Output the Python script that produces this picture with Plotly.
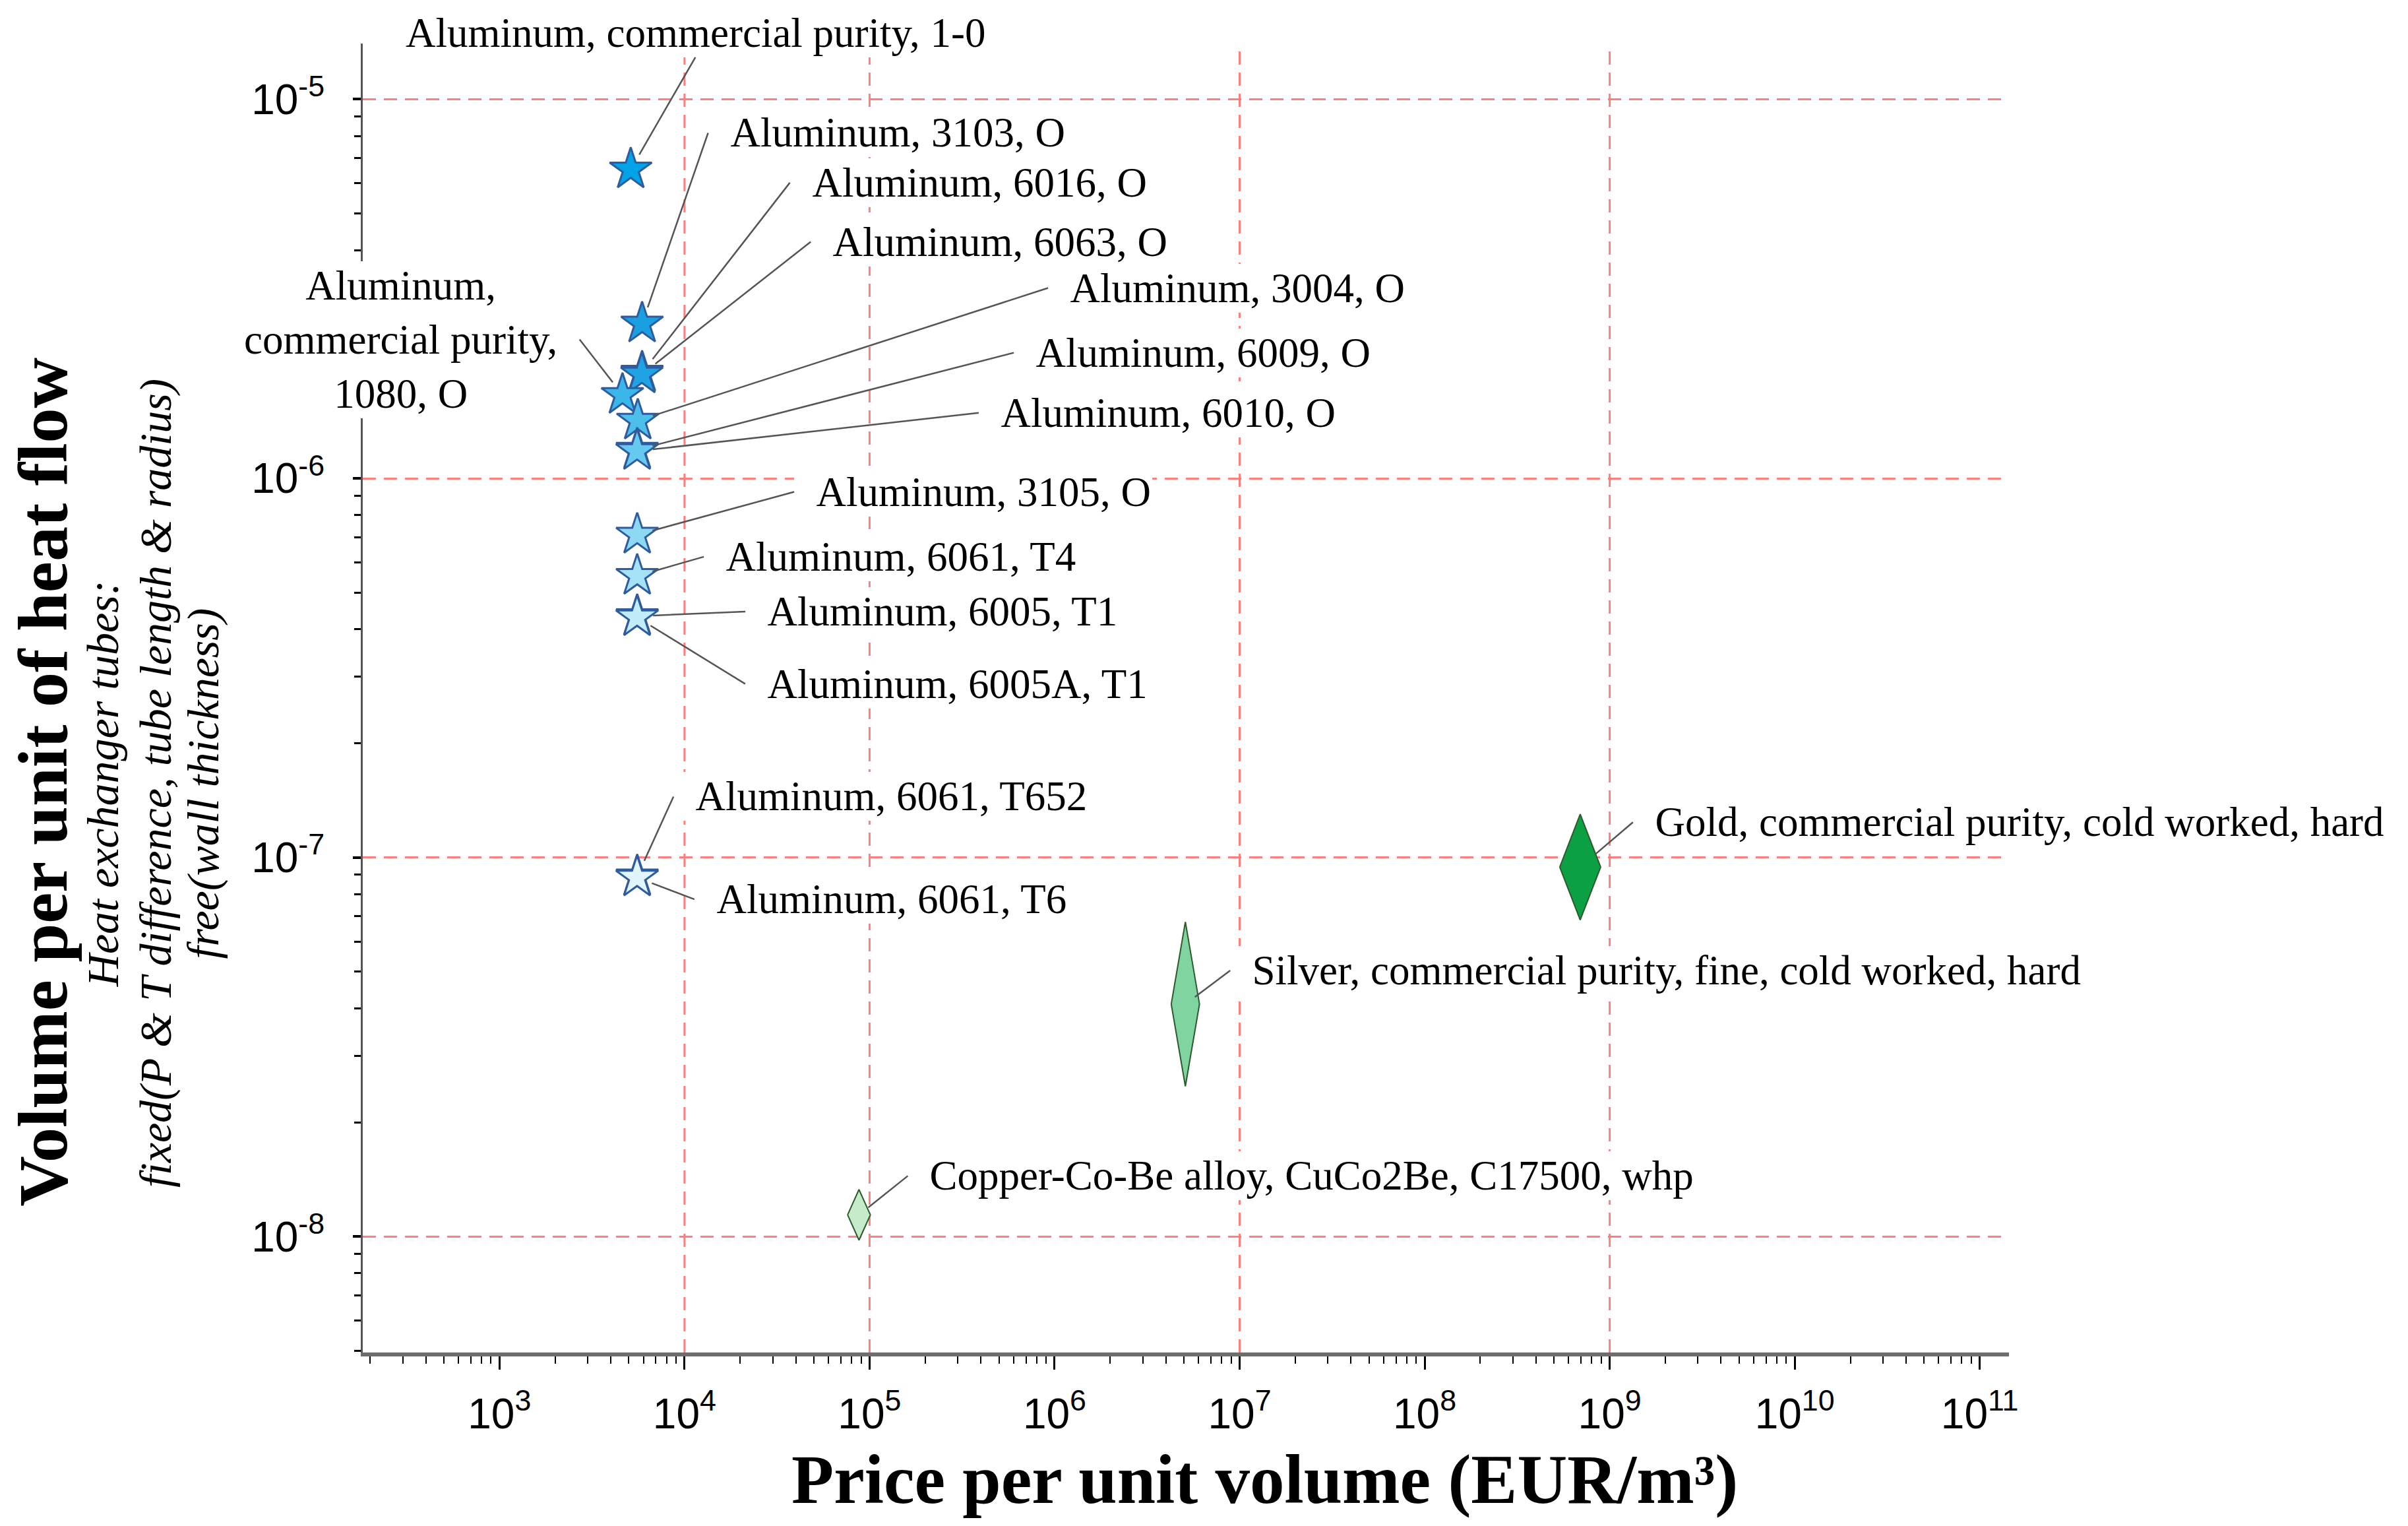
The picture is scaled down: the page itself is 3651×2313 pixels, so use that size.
import math
import plotly.graph_objects as go

# Point materials (stars): price per unit volume (EUR/m^3) and volume per unit of heat flow
star_names = [
    "Aluminum, commercial purity, 1-0",
    "Aluminum, 3103, O",
    "Aluminum, 6016, O",
    "Aluminum, 6063, O",
    "Aluminum,<br>commercial purity,<br>1080, O",
    "Aluminum, 3004, O",
    "Aluminum, 6009, O",
    "Aluminum, 6010, O",
    "Aluminum, 3105, O",
    "Aluminum, 6061, T4",
    "Aluminum, 6005, T1",
    "Aluminum, 6005A, T1",
    "Aluminum, 6061, T652",
    "Aluminum, 6061, T6",
]
star_price = [5120, 5900, 5900, 5880, 4620, 5590, 5550, 5540, 5550, 5550, 5550, 5540, 5550, 5540]
star_volume = [6.53e-6, 2.56e-6, 1.90e-6, 1.88e-6, 1.66e-6, 1.42e-6, 1.19e-6, 1.18e-6,
               7.10e-7, 5.53e-7, 4.33e-7, 4.30e-7, 8.91e-8, 8.85e-8]

# Range materials (diamonds): min / max of price and volume
range_names = [
    "Gold, commercial purity, cold worked, hard",
    "Silver, commercial purity, fine, cold worked, hard",
    "Copper-Co-Be alloy, CuCo2Be, C17500, whp",
]
price_low = [5.37e8, 4.27e6, 7.61e4]
price_high = [8.94e8, 6.07e6, 1.01e5]
volume_low = [6.84e-8, 2.49e-8, 9.78e-9]
volume_high = [1.30e-7, 6.76e-8, 1.33e-8]

# Axes
x_tickvals = [1e3, 1e4, 1e5, 1e6, 1e7, 1e8, 1e9, 1e10, 1e11]
x_ticktext = ["10<sup>3</sup>", "10<sup>4</sup>", "10<sup>5</sup>", "10<sup>6</sup>", "10<sup>7</sup>",
              "10<sup>8</sup>", "10<sup>9</sup>", "10<sup>10</sup>", "10<sup>11</sup>"]
y_tickvals = [1e-8, 1e-7, 1e-6, 1e-5]
y_ticktext = ["10<sup>-8</sup>", "10<sup>-7</sup>", "10<sup>-6</sup>", "10<sup>-5</sup>"]
x_gridvals = [1e4, 1e5, 1e7, 1e9]

subtitle_lines = [
    "Heat exchanger tubes:",
    "fixed(P &amp; T difference, tube length &amp; radius)",
    "free(wall thickness)",
]

# Styling
star_colors = ["#00A3E6", "#1A9FE0", "#20A3E2", "#20A3E2", "#3BB6EA", "#4DBFEC", "#66C9F0",
               "#66C9F0", "#8DD9F4", "#A6E2F7", "#C3ECFA", "#C3ECFA", "#E2F4FC", "#E2F4FC"]
range_colors = ["#0AA043", "#7FD4A0", "#C6EBCB"]
SERIF = "Liberation Serif"
GRID = dict(color="#FF7F7F", width=3, dash="20px,12px")
GAP = "\u00a0\u00a0"

# label layout: (ax, ay, xanchor, yanchor, standoff)
star_label_pos = [
    (98, -170, "center", "bottom", 26),
    (100, -289, "left", "middle", 26),
    (224, -288, "left", "middle", 26),
    (256, -201, "left", "middle", 26),
    (-65, -84, "right", "middle", 24),
    (622, -201, "left", "middle", 24),
    (571, -147, "left", "middle", 24),
    (518, -58, "left", "middle", 24),
    (238, -65, "left", "middle", 24),
    (101, -29, "left", "middle", 24),
    (164, -7, "left", "middle", 24),
    (164, 101, "left", "middle", 24),
    (55, -121, "left", "middle", 26),
    (87, 33, "left", "middle", 24),
]
range_label_pos = [
    (80, -68, "left", "middle", 30),
    (68, -51, "left", "middle", 18),
    (74, -59, "left", "middle", 18),
]
subtitle_x = [-0.158, -0.126, -0.097]


def label_text(name, xanchor):
    if xanchor == "left":
        return GAP + name
    if xanchor == "right":
        return "<br>".join(line + GAP for line in name.split("<br>"))
    return name


fig = go.Figure()

# diamonds
for i, name in enumerate(range_names):
    xc = math.sqrt(price_low[i] * price_high[i])
    yc = math.sqrt(volume_low[i] * volume_high[i])
    fig.add_trace(go.Scatter(
        x=[price_low[i], xc, price_high[i], xc, price_low[i]],
        y=[yc, volume_high[i], yc, volume_low[i], yc],
        mode="lines", fill="toself", fillcolor=range_colors[i],
        line=dict(color="#2D5A2D", width=2), name=name, hoverinfo="name",
    ))

# stars
fig.add_trace(go.Scatter(
    x=star_price, y=star_volume, mode="markers", text=star_names, hoverinfo="text",
    marker=dict(symbol="star", size=48, color=star_colors,
                line=dict(color="#2E5C9E", width=3)),
))

annotations = []
for i, name in enumerate(star_names):
    ax, ay, xa, ya, so = star_label_pos[i]
    annotations.append(dict(
        x=math.log10(star_price[i]), y=math.log10(star_volume[i]), text=label_text(name, xa),
        showarrow=True, arrowhead=0, arrowwidth=2.5, arrowcolor="#555555",
        ax=ax, ay=ay, xanchor=xa, yanchor=ya, borderpad=2, borderwidth=0,
        standoff=so, bgcolor="white", align="center",
        font=dict(family=SERIF, size=63, color="black"),
    ))
for i, name in enumerate(range_names):
    ax, ay, xa, ya, so = range_label_pos[i]
    xc = math.sqrt(price_low[i] * price_high[i])
    yc = math.sqrt(volume_low[i] * volume_high[i])
    annotations.append(dict(
        x=math.log10(xc), y=math.log10(yc), text=label_text(name, xa),
        showarrow=True, arrowhead=0, arrowwidth=2.5, arrowcolor="#555555",
        ax=ax, ay=ay, xanchor=xa, yanchor=ya, borderpad=2, borderwidth=0,
        standoff=so, bgcolor="white",
        font=dict(family=SERIF, size=63, color="black"),
    ))

# axis titles
annotations.append(dict(
    text="<b>Price per unit volume (EUR/m³)</b>", xref="paper", yref="paper",
    x=0.548, y=-0.097, showarrow=False, xanchor="center", yanchor="middle",
    font=dict(family=SERIF, size=105, color="black"),
))
annotations.append(dict(
    text="<b>Volume per unit of heat flow</b>", xref="paper", yref="paper",
    x=-0.194, y=0.436, showarrow=False, textangle=-90, xanchor="center", yanchor="middle",
    font=dict(family=SERIF, size=106, color="black"),
))
for line, xp in zip(subtitle_lines, subtitle_x):
    annotations.append(dict(
        text="<i>" + line + "</i>", xref="paper", yref="paper", x=xp, y=0.4347,
        showarrow=False, textangle=-90, xanchor="center", yanchor="middle",
        font=dict(family=SERIF, size=68, color="black"),
    ))

shapes = [
    dict(type="line", xref="x", yref="paper", x0=v, x1=v, y0=0, y1=1, layer="below", line=GRID)
    for v in x_gridvals
]

tick_font = dict(family="Liberation Sans", size=64, color="black")

fig.update_layout(
    width=3651, height=2313,
    margin=dict(l=542, r=613, t=58, b=271),
    paper_bgcolor="white", plot_bgcolor="white",
    showlegend=False,
    annotations=annotations,
    shapes=shapes,
    xaxis=dict(
        type="log", range=[2.261, 11.158],
        tickmode="array", tickvals=x_tickvals, ticktext=x_ticktext,
        showgrid=False, zeroline=False,
        showline=True, linecolor="#6E6E6E", linewidth=6,
        ticks="outside", ticklen=20, tickwidth=3, tickcolor="black",
        ticklabelstandoff=12, tickfont=tick_font,
        minor=dict(ticks="outside", ticklen=11, tickwidth=2, tickcolor="black", dtick="D1", showgrid=False),
    ),
    yaxis=dict(
        type="log", range=[-8.306, -4.853],
        tickmode="array", tickvals=y_tickvals, ticktext=y_ticktext,
        showgrid=True, gridcolor=GRID["color"], gridwidth=GRID["width"], griddash=GRID["dash"],
        zeroline=False,
        showline=True, linecolor="#555555", linewidth=3,
        ticks="outside", ticklen=12, tickwidth=4, tickcolor="black",
        ticklabelstandoff=30, tickfont=tick_font,
        minor=dict(ticks="outside", ticklen=10, tickwidth=3, tickcolor="black", dtick="D1", showgrid=False),
    ),
)

fig.write_html("out.html")
